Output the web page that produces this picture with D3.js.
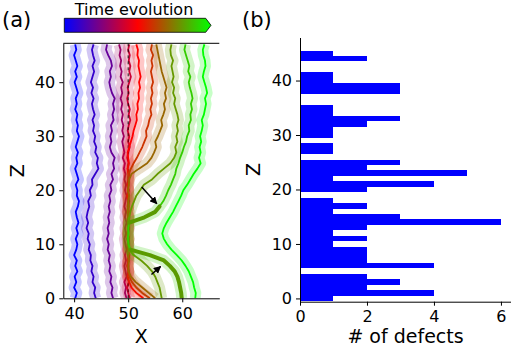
<!DOCTYPE html>
<html>
<head>
<meta charset="utf-8">
<script src="https://cdn.jsdelivr.net/npm/d3@7/dist/d3.min.js"></script>
<style>
  body { margin: 0; background: #fff; }
  svg { font-family: "DejaVu Sans", sans-serif; }
</style>
</head>
<body>
<svg id="chart" width="511" height="353"></svg>
<script>
// ---- data: front position X along Z = 0..47, one array per time step ----
const frontTimes = [0, 0.1, 0.2, 0.3, 0.4, 0.5, 0.6, 0.7, 0.8, 0.9, 1.0];

const front00 = [40.2,40.5,40.0,40.4,40.1,40.6,40.2,40.5,40.0,40.4,40.6,40.3,40.7,40.4,40.8,40.5,40.3,40.7,40.9,40.5,40.6,40.3,40.8,40.5,40.2,40.6,40.4,40.7,40.3,40.6,40.9,40.5,40.7,40.4,40.6,40.2,40.5,40.3,40.7,40.4,40.1,40.5,40.2,40.6,40.3,40.0,40.4,40.2];
const front01 = [44.0,43.7,43.9,43.4,43.6,43.2,43.4,43.0,43.1,42.7,42.9,42.5,42.7,42.3,42.6,42.3,42.5,42.8,42.6,43.1,42.9,43.4,43.3,43.9,44.5,44.2,44.4,43.9,44.1,43.7,43.9,43.5,43.7,43.4,43.8,43.5,43.3,43.6,43.2,43.5,43.1,43.4,43.7,43.4,43.8,43.5,43.3,43.6];
const front02 = [47.2,46.9,47.1,46.7,46.9,46.5,46.7,46.4,46.6,46.2,46.4,46.1,46.4,46.2,46.5,46.3,46.6,46.4,46.7,46.5,46.9,46.7,47.2,46.9,47.4,47.2,47.5,46.9,46.6,46.9,46.7,47.0,46.8,47.3,47.1,47.4,47.2,47.5,47.0,46.7,46.5,46.8,46.6,47.0,46.8,46.3,45.9,46.1];
const front03 = [49.7,49.4,49.6,49.3,49.7,49.5,49.3,49.6,49.4,49.7,49.5,49.3,49.6,49.4,49.7,49.4,49.6,49.3,49.5,49.7,49.4,49.6,49.3,49.5,49.2,49.4,49.0,49.3,49.1,48.9,49.2,48.9,49.1,48.8,49.0,48.7,48.9,48.6,48.9,48.7,49.0,48.6,48.8,48.5,48.7,48.4,48.6,48.3];
const front04 = [50.3,50.0,49.8,50.1,49.9,50.1,49.8,50.0,50.2,49.9,50.1,49.8,50.0,50.2,49.9,50.1,49.8,50.0,50.2,49.9,50.1,49.8,50.0,50.2,49.9,50.1,49.8,50.0,50.3,50.0,50.2,49.9,50.1,50.4,50.1,50.3,50.0,49.8,50.1,49.9,50.2,50.5,50.2,50.4,50.1,50.3,50.0,50.2];
const front05 = [52.8,51.5,50.6,50.2,49.9,50.1,49.9,50.0,50.2,49.9,50.1,50.0,49.8,50.1,50.0,50.2,49.9,50.1,50.0,49.8,50.1,49.9,50.2,50.0,49.9,50.1,50.0,49.9,50.2,50.5,50.8,51.0,51.3,51.6,51.5,51.8,51.7,52.0,51.9,52.2,52.0,52.3,52.1,51.9,52.0,51.7,51.8,51.5];
const front06 = [54.0,52.6,51.5,50.7,50.2,50.0,50.1,49.9,50.1,50.0,49.9,50.2,50.0,49.9,50.1,50.0,50.2,49.9,50.0,50.1,49.9,50.1,50.0,50.1,50.5,51.0,51.6,52.1,52.6,53.0,53.4,53.3,53.7,53.9,54.3,54.1,54.4,54.2,54.5,54.3,54.6,54.4,54.2,54.5,54.3,54.6,54.2,54.4];
const front07 = [55.0,53.8,52.6,51.4,50.5,50.1,50.0,50.2,49.9,50.1,50.0,50.1,49.9,50.0,50.2,50.0,49.9,50.1,50.0,50.2,50.0,50.1,50.2,50.6,52.0,53.5,54.3,54.8,55.2,55.0,55.5,55.9,56.3,56.1,56.5,56.8,56.6,57.0,56.8,57.1,56.8,56.5,56.2,56.0,55.8,55.6,55.4,55.2];
const front08 = [56.2,56.0,55.8,55.4,55.0,54.4,53.5,52.4,51.0,50.2,50.0,50.1,49.9,50.1,50.0,50.2,50.4,50.7,51.1,51.5,52.2,52.9,54.4,55.4,56.6,57.8,58.5,58.9,58.7,59.1,58.9,59.2,59.0,59.3,59.1,58.8,58.5,58.7,58.3,58.5,58.1,58.4,58.2,58.0,58.3,57.9,57.8,58.0];
const front09 = [59.9,59.8,59.6,59.4,59.1,58.6,57.7,56.6,54.0,50.4,50.1,49.9,50.1,50.0,50.2,53.0,55.0,55.8,56.5,57.0,57.4,57.9,58.3,58.7,58.9,59.3,59.6,60.0,60.3,60.7,60.9,61.3,61.2,61.6,61.5,61.8,61.6,61.9,61.7,61.4,61.2,61.5,61.1,61.3,61.0,60.7,60.4,60.6];
const front10 = [62.4,62.5,62.2,62.0,61.6,61.2,60.6,59.9,59.0,58.0,57.2,56.6,56.3,56.6,57.1,57.7,58.3,58.8,59.3,59.8,60.2,60.9,61.5,62.1,62.8,63.4,63.1,63.4,63.2,63.5,63.3,63.6,63.8,63.6,64.0,64.2,64.4,64.2,64.6,64.4,64.1,63.8,64.0,64.3,64.2,63.9,63.8,64.1];

const fronts = [front00, front01, front02, front03, front04, front05, front06, front07, front08, front09, front10];

// depinning segments of the last-but-one front (Z ranges drawn bold)
const boldRanges = [[0, 9], [14, 17]];

// pinning line and arrows (data coords: [X, Z])
const pinX = 50;
const arrowUpper = [[52.5, 20.6], [55.3, 17.5]];
const arrowLower = [[54.3, 4.4], [56.0, 5.9]];

// ---- data: number of defects per Z ----
const defectZ = d3.range(0, 46);
const defectCounts = [1,4,2,3,2,0,4,2,2,2,1,2,1,2,6,3,1,2,1,0,2,4,1,5,2,3,0,1,1,0,1,1,2,3,1,1,0,0,3,3,1,1,0,0,2,1];

const xTicksA = [40, 50, 60];
const zTicks = [0, 10, 20, 30, 40];
const xTicksB = [0, 2, 4, 6];

// ---- drawing ----
const svg = d3.select('#chart');
const tickFont = 16;

const cmap = d3.scaleLinear().domain([0, 0.5, 1]).range(['#0000ff', '#ff0000', '#00ff00']);

// panel (a) scales
const xA = d3.scaleLinear().domain([38, 66.85]).range([63.3, 219.3]);
const zA = d3.scaleLinear().domain([0, 47.2]).range([298.3, 43.3]);

const defs = svg.append('defs');
defs.append('clipPath').attr('id', 'clipA')
  .append('rect').attr('x', 63.3).attr('y', 43.3).attr('width', 156).attr('height', 255);

const gA = svg.append('g').attr('clip-path', 'url(#clipA)');

const line = d3.line()
  .x((d) => xA(d[0]))
  .y((d) => zA(d[1]))
  .curve(d3.curveLinear);

fronts.forEach((xs, i) => {
  const pts = xs.map((x, z) => [x, z]);
  const c = cmap(frontTimes[i]);
  gA.append('path')
    .attr('d', line(pts))
    .attr('fill', 'none')
    .attr('stroke', c)
    .attr('stroke-opacity', 0.22)
    .attr('stroke-width', 11)
    .attr('stroke-linejoin', 'round');
  gA.append('path')
    .attr('d', line(pts))
    .attr('fill', 'none')
    .attr('stroke', c)
    .attr('stroke-width', 1.8)
    .attr('stroke-linejoin', 'round');

  // pinning line sits above the early fronts, below the later ones
  if (i === 4) {
    gA.append('line')
      .attr('x1', xA(pinX)).attr('x2', xA(pinX))
      .attr('y1', zA(0)).attr('y2', zA(47.2))
      .attr('stroke', '#000')
      .attr('stroke-width', 0.9)
      .attr('stroke-dasharray', '3,3');
  }
});

// bold depinning segments
const boldFront = fronts[9];
boldRanges.forEach(([z0, z1]) => {
  const pts = boldFront.map((x, z) => [x, z]).filter((d) => d[1] >= z0 && d[1] <= z1);
  gA.append('path')
    .attr('d', line(pts))
    .attr('fill', 'none')
    .attr('stroke', '#5a9a00')
    .attr('stroke-width', 4)
    .attr('stroke-linejoin', 'round')
    .attr('stroke-linecap', 'round');
});

// arrows
defs.append('marker')
  .attr('id', 'head')
  .attr('viewBox', '0 0 10 10')
  .attr('refX', 9).attr('refY', 5)
  .attr('markerWidth', 5).attr('markerHeight', 5)
  .attr('orient', 'auto')
  .append('path').attr('d', 'M0,0 L10,5 L0,10 z').attr('fill', '#000');

[arrowUpper, arrowLower].forEach((a) => {
  svg.append('line')
    .attr('x1', xA(a[0][0])).attr('y1', zA(a[0][1]))
    .attr('x2', xA(a[1][0])).attr('y2', zA(a[1][1]))
    .attr('stroke', '#000')
    .attr('stroke-width', 1.5)
    .attr('marker-end', 'url(#head)');
});

// axes (a)
svg.append('g')
  .attr('transform', `translate(0,${zA(0)})`)
  .call(d3.axisBottom(xA).tickValues(xTicksA).tickFormat(d3.format('d')).tickSize(4).tickSizeOuter(0).tickPadding(5));
svg.append('g')
  .attr('transform', `translate(${xA(38)},0)`)
  .call(d3.axisLeft(zA).tickValues(zTicks).tickFormat(d3.format('d')).tickSize(4).tickSizeOuter(0).tickPadding(4));
svg.append('line')
  .attr('x1', 63.3).attr('x2', 219.3)
  .attr('y1', 43.3).attr('y2', 43.3)
  .attr('stroke', '#000').attr('stroke-width', 1);

// panel (b) scales
const xB = d3.scaleLinear().domain([0, 6.3]).range([300, 511]);
const zB = d3.scaleLinear().domain([-0.6, 47.9]).range([301.7, 37.5]);

svg.append('g')
  .selectAll('rect')
  .data(defectZ)
  .join('rect')
  .attr('x', xB(0))
  .attr('y', (z) => zB(z + 0.5))
  .attr('width', (z, i) => xB(defectCounts[i]) - xB(0))
  .attr('height', (z) => zB(z - 0.5) - zB(z + 0.5))
  .attr('fill', '#0000ff')
  .attr('shape-rendering', 'crispEdges');

svg.append('g')
  .attr('transform', `translate(0,${zB(-0.6)})`)
  .call(d3.axisBottom(xB).tickValues(xTicksB).tickFormat(d3.format('d')).tickSize(4).tickSizeOuter(0).tickPadding(5));
svg.append('g')
  .attr('transform', `translate(${xB(0)},0)`)
  .call(d3.axisLeft(zB).tickValues(zTicks).tickFormat(d3.format('d')).tickSize(4).tickSizeOuter(0).tickPadding(4));

svg.selectAll('.tick text').attr('font-size', tickFont).attr('font-family', '"DejaVu Sans", sans-serif').attr('fill', '#000');
svg.selectAll('.domain').attr('stroke', '#000').attr('stroke-width', 1);
svg.selectAll('.tick line').attr('stroke', '#000').attr('stroke-width', 1);

// axis labels
svg.append('text').attr('x', 141.3).attr('y', 343).attr('text-anchor', 'middle')
  .attr('font-size', 19).text('X');
svg.append('text').attr('transform', 'translate(24,170.8) rotate(-90)').attr('text-anchor', 'middle')
  .attr('font-size', 19).text('Z');
svg.append('text').attr('x', 405.5).attr('y', 343).attr('text-anchor', 'middle')
  .attr('font-size', 19).text('# of defects');
svg.append('text').attr('transform', 'translate(260,169.6) rotate(-90)').attr('text-anchor', 'middle')
  .attr('font-size', 19).text('Z');

// panel labels
svg.append('text').attr('x', 2).attr('y', 27).attr('font-size', 21).text('(a)');
svg.append('text').attr('x', 242).attr('y', 27).attr('font-size', 21).text('(b)');

// colorbar
const grad = defs.append('linearGradient').attr('id', 'timeGrad');
[0, 0.5, 1].forEach((t) => {
  grad.append('stop').attr('offset', t).attr('stop-color', cmap(t));
});
const cbX = d3.scaleLinear().domain([0, 1]).range([64.3, 205.7]);
svg.append('path')
  .attr('d', `M${cbX(0)},18.3 L${cbX(1)},18.3 L${cbX(1) + 5.3},25.3 L${cbX(1)},32.3 L${cbX(0)},32.3 Z`)
  .attr('fill', 'url(#timeGrad)')
  .attr('stroke', '#000')
  .attr('stroke-width', 0.8);
svg.append('text').attr('x', 134).attr('y', 15).attr('text-anchor', 'middle')
  .attr('font-size', 16).text('Time evolution');
</script>
</body>
</html>
